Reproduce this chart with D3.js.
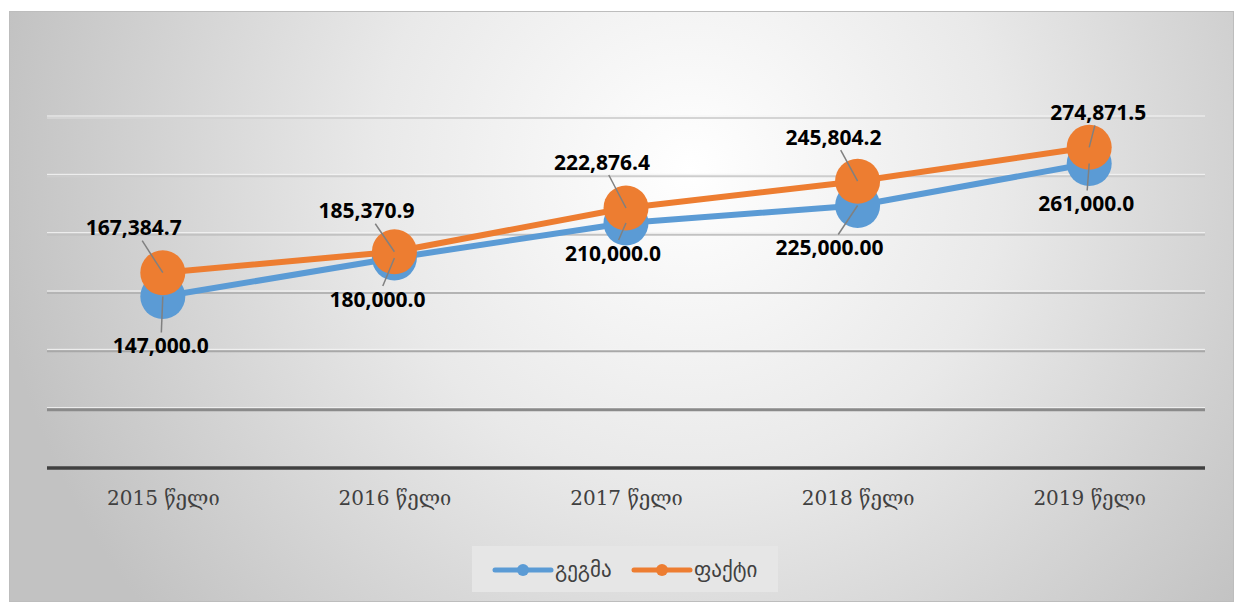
<!DOCTYPE html>
<html>
<head>
<meta charset="utf-8">
<script src="https://cdn.jsdelivr.net/npm/d3@7"></script>
<style>
  html, body { margin: 0; padding: 0; background: #fff; }
  svg { display: block; }
</style>
</head>
<body>
<div id="chart"></div>
<script>
// chart data
const years = ['2015 წელი', '2016 წელი', '2017 წელი', '2018 წელი', '2019 წელი'];
const plan = [147000, 180000, 210000, 225000, 261000];          // გეგმა
const fact = [167384.7, 185370.9, 222876.4, 245804.2, 274871.5]; // ფაქტი
const planDecimals = [1, 1, 1, 2, 1];
const factDecimals = [1, 1, 1, 1, 1];
const yTicks = [0, 50000, 100000, 150000, 200000, 250000, 300000];
const seriesNames = ['გეგმა', 'ფაქტი'];

// label placement (offset of label centre from its point)
const planLabelOffset = [[-2, 49], [-17, 41], [-13, 30], [-28, 42], [-3, 40]];
const factLabelOffset = [[-29, -45], [-28, -41], [-24, -46], [-24, -44], [9, -35]];

const width = 1242, height = 603;
const margin = { left: 47, right: 37, top: 118, bottom: 135 };
const colors = ['#5b9bd5', '#ed7d31'];

const svg = d3.select('#chart').append('svg')
  .attr('width', width)
  .attr('height', height);

const defs = svg.append('defs');
const grad = defs.append('radialGradient')
  .attr('id', 'bg')
  .attr('gradientUnits', 'userSpaceOnUse')
  .attr('cx', 690).attr('cy', 170).attr('r', 700);
grad.append('stop').attr('offset', '0%').attr('stop-color', '#ffffff');
grad.append('stop').attr('offset', '45%').attr('stop-color', '#e9e9e9');
grad.append('stop').attr('offset', '100%').attr('stop-color', '#c2c2c2');

// chart area
svg.append('rect')
  .attr('x', 9.5).attr('y', 11.5)
  .attr('width', 1224).attr('height', 590)
  .attr('fill', 'url(#bg)')
  .attr('stroke', '#bdbdbd')
  .attr('stroke-width', 1);

const x = d3.scalePoint()
  .domain(years)
  .range([margin.left, width - margin.right])
  .padding(0.5);

const y = d3.scaleLinear()
  .domain([0, 300000])
  .range([height - margin.bottom, margin.top]);

// gridlines (shadowed look, darker toward the bottom); index 0 = axis
const gridColors = ['#404040', '#8a8a8a', '#a8a8a8', '#b4b4b4', '#c2c2c2', '#cdcdcd', '#d4d4d4'];
const gridWidths = [3.5, 3, 2, 2, 2, 2, 2];
const grid = svg.append('g');
grid.selectAll('line.hl')
  .data(yTicks.slice(1))
  .enter().append('line')
  .attr('class', 'hl')
  .attr('x1', margin.left).attr('x2', width - margin.right)
  .attr('y1', d => y(d) - 2).attr('y2', d => y(d) - 2)
  .attr('stroke', '#f4f4f4')
  .attr('stroke-width', 1);
grid.selectAll('line.g')
  .data(yTicks)
  .enter().append('line')
  .attr('class', 'g')
  .attr('x1', margin.left).attr('x2', width - margin.right)
  .attr('y1', d => y(d)).attr('y2', d => y(d))
  .attr('stroke', (d, i) => gridColors[i])
  .attr('stroke-width', (d, i) => gridWidths[i]);

// x axis labels
const xAxis = svg.append('g')
  .attr('transform', `translate(0,${y(0)})`)
  .call(d3.axisBottom(x).tickSize(0).tickPadding(23));
xAxis.select('.domain').remove();
xAxis.selectAll('text')
  .attr('font-family', '"DejaVu Serif", serif')
  .attr('font-size', 20)
  .attr('fill', '#404040');

const series = [
  { values: plan, decimals: planDecimals, offsets: planLabelOffset, color: colors[0] },
  { values: fact, decimals: factDecimals, offsets: factLabelOffset, color: colors[1] }
];

const line = d3.line()
  .x((d, i) => x(years[i]))
  .y(d => y(d));

series.forEach(s => {
  svg.append('path')
    .datum(s.values)
    .attr('fill', 'none')
    .attr('stroke', s.color)
    .attr('stroke-width', 6)
    .attr('stroke-linejoin', 'round')
    .attr('d', line);
  svg.append('g').selectAll('circle')
    .data(s.values)
    .enter().append('circle')
    .attr('cx', (d, i) => x(years[i]))
    .attr('cy', d => y(d))
    .attr('r', 22.5)
    .attr('fill', s.color);
});

// data labels with leader lines
const leaders = svg.append('g');
const labels = svg.append('g');
series.forEach(s => {
  s.values.forEach((v, i) => {
    const px = x(years[i]), py = y(v);
    const lx = px + s.offsets[i][0], ly = py + s.offsets[i][1];
    const t = labels.append('text')
      .attr('x', lx).attr('y', ly)
      .attr('dy', '0.36em')
      .attr('text-anchor', 'middle')
      .attr('font-family', '"Open Sans", sans-serif')
      .attr('font-weight', 700)
      .attr('font-size', 21)
      .attr('fill', '#000')
      .text(d3.format(`,.${s.decimals[i]}f`)(v));
    const bb = t.node().getBBox();
    const hw = bb.width / 2 + 2, hh = 10 + 3;
    const dx = px - lx, dy = py - ly;
    const k = Math.min(dx !== 0 ? hw / Math.abs(dx) : Infinity, dy !== 0 ? hh / Math.abs(dy) : Infinity);
    leaders.append('line')
      .attr('x1', lx + dx * k).attr('y1', ly + dy * k)
      .attr('x2', px).attr('y2', py)
      .attr('stroke', '#808080')
      .attr('stroke-width', 1.5);
  });
});
leaders.raise();
labels.raise();

// legend
const legend = svg.append('g');
legend.append('rect')
  .attr('x', 472).attr('y', 546)
  .attr('width', 306).attr('height', 46)
  .attr('fill', '#e6e6e6');
const items = [{ x: 495, tx: 555 }, { x: 634, tx: 694 }];
seriesNames.forEach((name, i) => {
  const it = items[i];
  legend.append('line')
    .attr('x1', it.x).attr('x2', it.x + 56)
    .attr('y1', 570).attr('y2', 570)
    .attr('stroke', colors[i])
    .attr('stroke-width', 5)
    .attr('stroke-linecap', 'round');
  legend.append('circle')
    .attr('cx', it.x + 28).attr('cy', 570).attr('r', 6)
    .attr('fill', colors[i]);
  legend.append('text')
    .attr('x', it.tx).attr('y', 570)
    .attr('dy', '0.32em')
    .attr('font-family', '"DejaVu Sans", sans-serif')
    .attr('font-size', 21)
    .attr('fill', '#404040')
    .text(name);
});
</script>
</body>
</html>
